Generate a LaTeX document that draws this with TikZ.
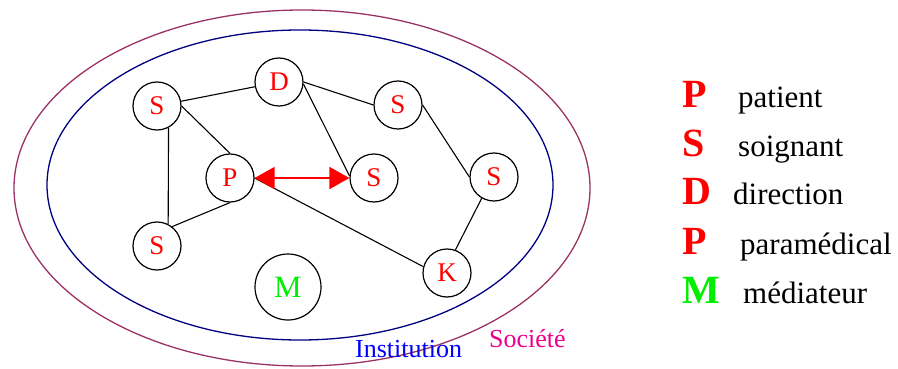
\documentclass[tikz,border=0pt]{standalone}
\usepackage{fontspec}
\setmainfont{LiberationSerif}[Extension=.ttf, UprightFont=*-Regular, BoldFont=*-Bold]
\usetikzlibrary{arrows.meta}
\definecolor{socmauve}{HTML}{993366}
\definecolor{instbleu}{HTML}{000080}
\definecolor{vertmed}{HTML}{00EE00}

\begin{document}
\begin{tikzpicture}[
  x=1pt, y=-1pt,
  pers/.style={draw, circle, line width=1.2pt, minimum size=48pt, inner sep=0pt, text=red, font=\rmfamily\fontsize{27}{27}\selectfont},
  lien/.style={line width=1.1pt},
  fleche/.style={{Triangle[length=20pt,width=22pt]}-{Triangle[length=20pt,width=22pt]}, line width=1.8pt, red},
  lettre/.style={anchor=base west, inner sep=0pt, font=\rmfamily\fontsize{40}{40}\selectfont\bfseries},
  mot/.style={anchor=base west, inner sep=0pt, font=\rmfamily\fontsize{31}{31}\selectfont}
]
\useasboundingbox (0,0) rectangle (898,369);
% societe et institution
\draw[socmauve, line width=1.3pt] (302,188) ellipse [x radius=288, y radius=178];
\draw[instbleu, line width=1.3pt] (300,185) ellipse [x radius=253, y radius=155];
\node[mot, text=blue, font=\rmfamily\fontsize{26}{26}\selectfont] (inst) at (355,357) {Institution};
\node[mot, text=magenta, font=\rmfamily\fontsize{26}{26}\selectfont] (soc) at (489,347) {Société};
% personnes
\node[pers] (s1) at (157,106) {S};
\node[pers] (d) at (279,82) {D};
\node[pers] (s2) at (398,105) {S};
\node[pers] (p) at (230,178) {P};
\node[pers] (s3) at (374,178) {S};
\node[pers] (s4) at (494,177) {S};
\node[pers] (s5) at (157,246) {S};
\node[pers] (k) at (447,273) {K};
\node[pers, minimum size=66pt, text=vertmed, font=\rmfamily\fontsize{31}{31}\selectfont] (m) at (288,287) {M};
% liens
\draw[lien] (s1) -- (d);
\draw[lien] (d.east) -- (s2.west);
\draw[lien] (d.-5) -- (s3.175);
\draw[lien] (s1.east) -- (p.north);
\draw[lien] (s1.-62) -- (s5.63);
\draw[lien] (s5.52) -- (p.south);
\draw[lien] (p.east) -- (k.165);
\draw[lien] (s2.east) -- (s4.west);
\draw[lien] (s4.-120) -- (k.70);
\draw[fleche] (p.east) -- (s3.west);
% legende
\node[lettre, text=red] (lp) at (682,107) {P};
\node[mot] (tp) at (738,107) {patient};
\node[lettre, text=red] (ls) at (682,157) {S};
\node[mot] (ts) at (738,157) {soignant};
\node[lettre, text=red] (ld) at (682,204) {D};
\node[mot] (td) at (733,204) {direction};
\node[lettre, text=red] (lpa) at (682,254) {P};
\node[mot] (tpa) at (740,254) {paramédical};
\node[lettre, text=vertmed] (lm) at (682,303) {M};
\node[mot] (tm) at (743,303) {médiateur};
\end{tikzpicture}
\end{document}
